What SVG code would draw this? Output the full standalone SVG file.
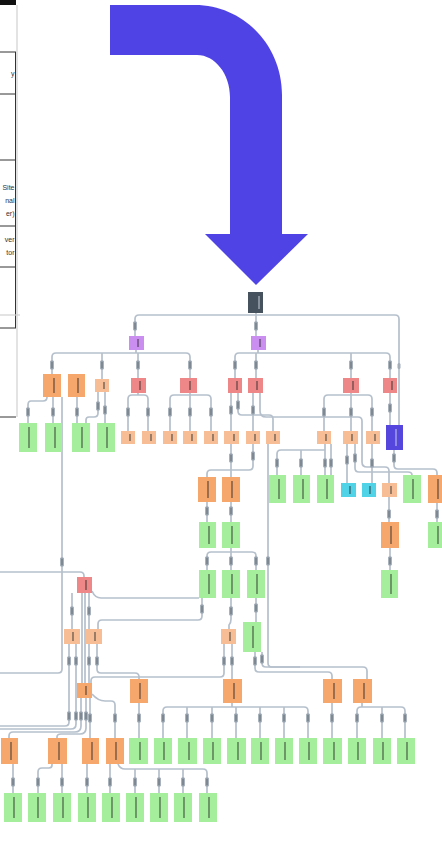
<svg xmlns="http://www.w3.org/2000/svg" width="442" height="865" viewBox="0 0 442 865">
<style>
.bg{fill:#ffffff}
.tb{stroke:#333;stroke-width:1;fill:none}
.tbl{stroke:#d0d0d0;stroke-width:1.2;fill:none}
.tt{font-family:"Liberation Sans",Arial,sans-serif;font-size:7px;fill:#333;text-anchor:end}
.c path{fill:none;stroke:#b5c0cc;stroke-width:1.7}
.green{fill:#a4ee9c}
.orange{fill:#f5a76c}
.peach{fill:#f7be96}
.red{fill:#ee8787}
.purple{fill:#c98ef0}
.dark{fill:#46535f}
.blue{fill:#5546de}
.cyan{fill:#50d3e6}
.ink{stroke:#2a2a2a;stroke-width:1.2;opacity:0.75}
.inkl{stroke:#dfe3f0;stroke-width:1;opacity:0.85}
</style>
<defs>
<g id="chip"><rect x="-1.8" y="-4.5" width="3.6" height="9" rx="1" fill="#939fab"/><line x1="0" y1="-3" x2="0" y2="3" stroke="#5d6772" stroke-width="0.8"/></g>
<g id="chips"><rect x="-1.5" y="-3" width="3" height="6" rx="1.5" fill="#a3aeb9"/></g>
</defs>
<rect class="bg" x="0" y="0" width="442" height="865"/>

<g id="table">
<rect x="0" y="0" width="16" height="5" fill="#111"/>
<line class="tbl" x1="17" y1="5" x2="17" y2="417"/>
<line class="tb" x1="15.5" y1="52" x2="15.5" y2="328"/>
<line class="tb" x1="0" y1="52" x2="16" y2="52"/>
<line class="tb" x1="0" y1="94" x2="16" y2="94"/>
<line class="tb" x1="0" y1="160" x2="16" y2="160"/>
<line class="tb" x1="0" y1="226" x2="16" y2="226"/>
<line class="tb" x1="0" y1="267" x2="16" y2="267"/>
<line class="tb" x1="0" y1="328" x2="16" y2="328"/>
<line class="tbl" x1="0" y1="315" x2="20" y2="315"/>
<line class="tb" x1="0" y1="417" x2="16" y2="417"/>
<text class="tt" x="14.5" y="76">y</text>
<text class="tt" x="14.5" y="190">Site</text>
<text class="tt" x="14.5" y="203">nal</text>
<text class="tt" x="14.5" y="216">er)</text>
<text class="tt" x="14.5" y="242">ver</text>
<text class="tt" x="14.5" y="255">tor</text>
</g>

<path id="bigarrow" d="M110,5 H195 C243,5 282,45 282,95 V234 H308 L256,285 L205,234 H230 V97 C230,74 215,55 197,55 H110 Z" fill="#5043e6"/>

<g id="connectors" class="c">
<path d="M135,336 V319 Q135,315 139,315 H395 Q399,315 399,319 V425"/>
<path d="M256,313 V336"/>
<path d="M136,350 V353"/>
<path d="M52,374 V357 Q52,353 56,353 H186 Q190,353 190,357 V378"/>
<path d="M102,353 V379"/>
<path d="M138,353 V378"/>
<path d="M258,350 V353"/>
<path d="M235,378 V357 Q235,353 239,353 H386 Q390,353 390,357 V378"/>
<path d="M256,353 V378"/>
<path d="M351,353 V378"/>
<path d="M47,397 Q47,401 43,401 H31 Q28,401 28,405 V423"/>
<path d="M53,397 V423"/>
<path d="M62,397 V669 Q62,673 58,673 H0"/>
<path d="M77,397 V423"/>
<path d="M98,392 V413 Q98,417 94,417 H89 Q86,417 86,420 V423"/>
<path d="M105,392 V423"/>
<path d="M128,431 V399 Q128,395 132,395 H144 Q148,395 148,399 V431"/>
<path d="M138,393 V395"/>
<path d="M170,431 V399 Q170,395 174,395 H207 Q211,395 211,399 V431"/>
<path d="M190,393 V431"/>
<path d="M231,393 V431"/>
<path d="M238,393 V411 Q238,415 242,415 H269 Q273,415 273,419 V431"/>
<path d="M253,393 V431"/>
<path d="M260,393 V411 Q260,417 266,417 H358 Q362,417 362,421 V462 Q362,467 367,467 H385 Q389,467 389,471 V483"/>
<path d="M324,431 V399 Q324,395 328,395 H368 Q372,395 372,399 V431"/>
<path d="M351,393 V431"/>
<path d="M390,393 V425"/>
<path d="M231,444 V477"/>
<path d="M253,444 V466 Q253,470 249,470 H211 Q207,470 207,474 V477"/>
<path d="M207,502 V522"/>
<path d="M231,502 V522"/>
<path d="M207,570 V556 Q207,552 211,552 H252 Q256,552 256,556 V570"/>
<path d="M231,548 V570"/>
<path d="M268,444 V663 Q268,667 272,667 H363 Q367,667 367,671 V679"/>
<path d="M277,475 V454 Q277,450 281,450 H325"/>
<path d="M325,444 V475"/>
<path d="M301,450 V475"/>
<path d="M331,444 V475"/>
<path d="M347,444 V483"/>
<path d="M355,444 V468 Q355,472 359,472 H408 Q412,472 412,475"/>
<path d="M372,444 V483"/>
<path d="M394,450 V465 Q394,469 398,469 H433 Q437,469 437,473 V475"/>
<path d="M389,497 V522"/>
<path d="M390,548 V570"/>
<path d="M437,503 V522"/>
<path d="M0,572 H80 Q84,572 84,576 V577"/>
<path d="M72,593 V629"/>
<path d="M89,593 V629"/>
<path d="M82,593 V683"/>
<path d="M85,593 V683"/>
<path d="M92,591 Q95,598 101,598 H199"/>
<path d="M231,598 V619 Q231,623 229,625 V629"/>
<path d="M98,629 V624 Q98,620 102,620 H198 Q202,620 202,616 V598"/>
<path d="M256,598 V622"/>
<path d="M69,644 V722 Q69,726 65,726 H0"/>
<path d="M76,644 V724 Q76,729 71,729 H0"/>
<path d="M89,644 V683"/>
<path d="M97,644 V669 Q97,673 101,673 H135 Q139,673 139,677 V679"/>
<path d="M224,644 V673 Q224,677 220,677 H95 Q91,677 91,681 V683"/>
<path d="M232,644 V679"/>
<path d="M255,652 V668 Q255,672 259,672 H328 Q332,672 332,676 V679"/>
<path d="M262,652 V663 Q262,667 266,667 H300"/>
<path d="M81,698 V726 Q81,732 75,732 H13 Q9,732 9,736 V738"/>
<path d="M86,698 V728 Q86,734 80,734 H61 Q57,734 57,737 V738"/>
<path d="M90,698 V738"/>
<path d="M92,694 Q98,701 105,701 H111 Q115,701 115,705 V738"/>
<path d="M139,703 V738"/>
<path d="M163,738 V711 Q163,707 167,707 H304 Q308,707 308,711 V738"/>
<path d="M187,707 V738"/>
<path d="M212,707 V738"/>
<path d="M236,707 V738"/>
<path d="M260,707 V738"/>
<path d="M284,707 V738"/>
<path d="M232,703 V707"/>
<path d="M332,703 V738"/>
<path d="M357,738 V711 Q357,707 361,707 H401 Q405,707 405,711 V738"/>
<path d="M382,707 V738"/>
<path d="M362,703 V707"/>
<path d="M13,764 V793"/>
<path d="M52,764 V765 Q52,768 49,768 H42 Q38,768 38,772 V793"/>
<path d="M62,764 V793"/>
<path d="M87,764 V793"/>
<path d="M110,764 V793"/>
<path d="M118,764 Q120,769 125,769 H203 Q207,769 207,773 V793"/>
<path d="M135,769 V793"/>
<path d="M159,769 V793"/>
<path d="M183,769 V793"/>
</g>

<g id="edge-labels">
<use href="#chip" x="135" y="326"/><use href="#chip" x="256" y="326"/><use href="#chips" x="399" y="366"/>
<use href="#chip" x="52" y="365"/><use href="#chip" x="102" y="365"/><use href="#chip" x="138" y="365"/><use href="#chip" x="190" y="365"/>
<use href="#chip" x="235" y="365"/><use href="#chip" x="256" y="365"/><use href="#chip" x="351" y="365"/><use href="#chip" x="390" y="365"/>
<use href="#chip" x="28" y="412"/><use href="#chip" x="53" y="412"/><use href="#chip" x="77" y="412"/><use href="#chip" x="98" y="406"/><use href="#chip" x="105" y="410"/>
<use href="#chip" x="128" y="412"/><use href="#chip" x="148" y="412"/><use href="#chip" x="170" y="412"/><use href="#chip" x="190" y="412"/><use href="#chip" x="211" y="412"/>
<use href="#chip" x="231" y="410"/><use href="#chip" x="238" y="405"/><use href="#chip" x="253" y="410"/><use href="#chip" x="324" y="412"/><use href="#chip" x="351" y="412"/><use href="#chip" x="372" y="412"/><use href="#chip" x="390" y="408"/>
<use href="#chip" x="231" y="458"/><use href="#chip" x="253" y="456"/><use href="#chip" x="394" y="458"/>
<use href="#chip" x="277" y="463"/><use href="#chip" x="301" y="463"/><use href="#chip" x="325" y="463"/><use href="#chip" x="331" y="463"/><use href="#chip" x="347" y="460"/><use href="#chip" x="355" y="458"/><use href="#chip" x="372" y="463"/>
<use href="#chip" x="207" y="511"/><use href="#chip" x="231" y="511"/><use href="#chip" x="389" y="514"/><use href="#chip" x="437" y="514"/>
<use href="#chip" x="207" y="561"/><use href="#chip" x="231" y="561"/><use href="#chip" x="256" y="561"/><use href="#chip" x="268" y="561"/><use href="#chip" x="390" y="561"/><use href="#chip" x="62" y="562"/>
<use href="#chip" x="202" y="609"/><use href="#chip" x="231" y="611"/><use href="#chip" x="256" y="608"/><use href="#chip" x="72" y="611"/><use href="#chip" x="89" y="611"/>
<use href="#chip" x="69" y="661"/><use href="#chip" x="76" y="661"/><use href="#chip" x="89" y="661"/><use href="#chip" x="97" y="661"/><use href="#chip" x="224" y="661"/><use href="#chip" x="232" y="661"/><use href="#chip" x="255" y="661"/><use href="#chip" x="262" y="659"/>
<use href="#chip" x="69" y="716"/><use href="#chip" x="76" y="716"/><use href="#chip" x="81" y="716"/><use href="#chip" x="86" y="716"/><use href="#chip" x="90" y="718"/><use href="#chip" x="115" y="718"/>
<use href="#chip" x="139" y="718"/><use href="#chip" x="163" y="718"/><use href="#chip" x="187" y="718"/><use href="#chip" x="212" y="718"/><use href="#chip" x="236" y="718"/><use href="#chip" x="260" y="718"/><use href="#chip" x="284" y="718"/><use href="#chip" x="308" y="718"/>
<use href="#chip" x="332" y="718"/><use href="#chip" x="357" y="718"/><use href="#chip" x="382" y="718"/><use href="#chip" x="405" y="718"/>
<use href="#chip" x="13" y="782"/><use href="#chip" x="38" y="782"/><use href="#chip" x="62" y="782"/><use href="#chip" x="87" y="782"/><use href="#chip" x="110" y="782"/><use href="#chip" x="135" y="782"/><use href="#chip" x="159" y="782"/><use href="#chip" x="183" y="782"/><use href="#chip" x="207" y="782"/>
</g>

<g id="nodes">
<g id="n-root"><rect class="dark" x="248" y="292" width="15" height="21"/><line class="inkl" x1="259" y1="296" x2="259" y2="309"/></g>
<g id="n-p1"><rect class="purple" x="129" y="336" width="15" height="14"/><line class="ink" x1="138" y1="339" x2="138" y2="347"/></g>
<g id="n-p2"><rect class="purple" x="251" y="336" width="15" height="14"/><line class="ink" x1="260" y1="339" x2="260" y2="347"/></g>
<g id="n-a"><rect class="orange" x="43" y="374" width="18" height="23"/><line class="ink" x1="54" y1="378" x2="54" y2="393"/></g>
<g id="n-b"><rect class="orange" x="68" y="374" width="17" height="23"/><line class="ink" x1="78" y1="378" x2="78" y2="393"/></g>
<g id="n-c"><rect class="peach" x="95" y="379" width="14" height="13"/><line class="ink" x1="104" y1="382" x2="104" y2="389"/></g>
<g id="n-d"><rect class="red" x="131" y="378" width="15" height="15"/><line class="ink" x1="140" y1="381" x2="140" y2="390"/></g>
<g id="n-e"><rect class="red" x="180" y="378" width="17" height="15"/><line class="ink" x1="190" y1="381" x2="190" y2="390"/></g>
<g id="n-f"><rect class="red" x="228" y="378" width="14" height="15"/><line class="ink" x1="237" y1="381" x2="237" y2="390"/></g>
<g id="n-g"><rect class="red" x="248" y="378" width="15" height="15"/><line class="ink" x1="257" y1="381" x2="257" y2="390"/></g>
<g id="n-h"><rect class="red" x="343" y="378" width="16" height="15"/><line class="ink" x1="353" y1="381" x2="353" y2="390"/></g>
<g id="n-i"><rect class="red" x="383" y="378" width="14" height="15"/><line class="ink" x1="392" y1="381" x2="392" y2="390"/></g>
<g id="n-g1"><rect class="green" x="19" y="423" width="18" height="29"/><line class="ink" x1="29" y1="427" x2="29" y2="448"/></g>
<g id="n-g2"><rect class="green" x="45" y="423" width="17" height="29"/><line class="ink" x1="55" y1="427" x2="55" y2="448"/></g>
<g id="n-g3"><rect class="green" x="72" y="423" width="18" height="29"/><line class="ink" x1="82" y1="427" x2="82" y2="448"/></g>
<g id="n-g4"><rect class="green" x="97" y="423" width="18" height="29"/><line class="ink" x1="107" y1="427" x2="107" y2="448"/></g>
<g id="n-p1a"><rect class="peach" x="121" y="431" width="14" height="13"/><line class="ink" x1="130" y1="434" x2="130" y2="441"/></g>
<g id="n-p2a"><rect class="peach" x="142" y="431" width="14" height="13"/><line class="ink" x1="151" y1="434" x2="151" y2="441"/></g>
<g id="n-p3a"><rect class="peach" x="163" y="431" width="14" height="13"/><line class="ink" x1="172" y1="434" x2="172" y2="441"/></g>
<g id="n-p4a"><rect class="peach" x="183" y="431" width="14" height="13"/><line class="ink" x1="192" y1="434" x2="192" y2="441"/></g>
<g id="n-p5a"><rect class="peach" x="204" y="431" width="14" height="13"/><line class="ink" x1="213" y1="434" x2="213" y2="441"/></g>
<g id="n-p6a"><rect class="peach" x="224" y="431" width="15" height="13"/><line class="ink" x1="234" y1="434" x2="234" y2="441"/></g>
<g id="n-p7a"><rect class="peach" x="246" y="431" width="14" height="13"/><line class="ink" x1="255" y1="434" x2="255" y2="441"/></g>
<g id="n-p8a"><rect class="peach" x="266" y="431" width="14" height="13"/><line class="ink" x1="275" y1="434" x2="275" y2="441"/></g>
<g id="n-j"><rect class="peach" x="317" y="431" width="14" height="13"/><line class="ink" x1="326" y1="434" x2="326" y2="441"/></g>
<g id="n-k"><rect class="peach" x="343" y="431" width="15" height="13"/><line class="ink" x1="352" y1="434" x2="352" y2="441"/></g>
<g id="n-l"><rect class="peach" x="366" y="431" width="14" height="13"/><line class="ink" x1="375" y1="434" x2="375" y2="441"/></g>
<g id="n-m"><rect class="blue" x="386" y="425" width="17" height="25"/><line class="inkl" x1="396" y1="429" x2="396" y2="446"/></g>
<g id="n-n"><rect class="orange" x="198" y="477" width="18" height="25"/><line class="ink" x1="208" y1="481" x2="208" y2="498"/></g>
<g id="n-o"><rect class="orange" x="222" y="477" width="18" height="25"/><line class="ink" x1="232" y1="481" x2="232" y2="498"/></g>
<g id="n-pp"><rect class="green" x="199" y="522" width="17" height="26"/><line class="ink" x1="209" y1="526" x2="209" y2="544"/></g>
<g id="n-q"><rect class="green" x="222" y="522" width="18" height="26"/><line class="ink" x1="232" y1="526" x2="232" y2="544"/></g>
<g id="n-r"><rect class="green" x="199" y="570" width="17" height="28"/><line class="ink" x1="209" y1="574" x2="209" y2="594"/></g>
<g id="n-s"><rect class="green" x="222" y="570" width="18" height="28"/><line class="ink" x1="232" y1="574" x2="232" y2="594"/></g>
<g id="n-t"><rect class="green" x="247" y="570" width="18" height="28"/><line class="ink" x1="257" y1="574" x2="257" y2="594"/></g>
<g id="n-u"><rect class="green" x="269" y="475" width="17" height="28"/><line class="ink" x1="279" y1="479" x2="279" y2="499"/></g>
<g id="n-v"><rect class="green" x="293" y="475" width="17" height="28"/><line class="ink" x1="303" y1="479" x2="303" y2="499"/></g>
<g id="n-w"><rect class="green" x="317" y="475" width="17" height="28"/><line class="ink" x1="327" y1="479" x2="327" y2="499"/></g>
<g id="n-x"><rect class="cyan" x="341" y="483" width="15" height="14"/><line class="ink" x1="350" y1="486" x2="350" y2="494"/></g>
<g id="n-y"><rect class="cyan" x="362" y="483" width="14" height="14"/><line class="ink" x1="370" y1="486" x2="370" y2="494"/></g>
<g id="n-z"><rect class="peach" x="382" y="483" width="15" height="14"/><line class="ink" x1="391" y1="486" x2="391" y2="494"/></g>
<g id="n-aa"><rect class="green" x="403" y="475" width="18" height="28"/><line class="ink" x1="413" y1="479" x2="413" y2="499"/></g>
<g id="n-ab"><rect class="orange" x="428" y="475" width="18" height="28"/><line class="ink" x1="438" y1="479" x2="438" y2="499"/></g>
<g id="n-ac"><rect class="orange" x="381" y="522" width="18" height="26"/><line class="ink" x1="391" y1="526" x2="391" y2="544"/></g>
<g id="n-ad"><rect class="green" x="381" y="570" width="17" height="28"/><line class="ink" x1="391" y1="574" x2="391" y2="594"/></g>
<g id="n-ae"><rect class="green" x="428" y="522" width="18" height="26"/><line class="ink" x1="438" y1="526" x2="438" y2="544"/></g>
<g id="n-ba"><rect class="red" x="77" y="577" width="15" height="16"/><line class="ink" x1="86" y1="580" x2="86" y2="590"/></g>
<g id="n-bb"><rect class="peach" x="64" y="629" width="16" height="15"/><line class="ink" x1="73" y1="632" x2="73" y2="641"/></g>
<g id="n-bc"><rect class="peach" x="86" y="629" width="16" height="15"/><line class="ink" x1="95" y1="632" x2="95" y2="641"/></g>
<g id="n-bd"><rect class="peach" x="221" y="629" width="15" height="15"/><line class="ink" x1="230" y1="632" x2="230" y2="641"/></g>
<g id="n-be"><rect class="green" x="243" y="622" width="18" height="30"/><line class="ink" x1="253" y1="626" x2="253" y2="648"/></g>
<g id="n-bf"><rect class="orange" x="130" y="679" width="18" height="24"/><line class="ink" x1="140" y1="683" x2="140" y2="699"/></g>
<g id="n-bg"><rect class="orange" x="77" y="683" width="15" height="15"/><line class="ink" x1="86" y1="686" x2="86" y2="695"/></g>
<g id="n-bh"><rect class="orange" x="223" y="679" width="19" height="24"/><line class="ink" x1="234" y1="683" x2="234" y2="699"/></g>
<g id="n-bi"><rect class="orange" x="323" y="679" width="19" height="24"/><line class="ink" x1="334" y1="683" x2="334" y2="699"/></g>
<g id="n-bj"><rect class="orange" x="353" y="679" width="19" height="24"/><line class="ink" x1="364" y1="683" x2="364" y2="699"/></g>
<g id="n-bl"><rect class="orange" x="1" y="738" width="17" height="26"/><line class="ink" x1="11" y1="742" x2="11" y2="760"/></g>
<g id="n-bm"><rect class="orange" x="48" y="738" width="19" height="26"/><line class="ink" x1="59" y1="742" x2="59" y2="760"/></g>
<g id="n-bn"><rect class="orange" x="82" y="738" width="17" height="26"/><line class="ink" x1="92" y1="742" x2="92" y2="760"/></g>
<g id="n-bo"><rect class="orange" x="106" y="738" width="18" height="26"/><line class="ink" x1="116" y1="742" x2="116" y2="760"/></g>
<g id="n-bk"><rect class="green" x="129" y="738" width="19" height="26"/><line class="ink" x1="140" y1="742" x2="140" y2="760"/></g>
<g id="n-r9a"><rect class="green" x="154" y="738" width="18" height="26"/><line class="ink" x1="164" y1="742" x2="164" y2="760"/></g>
<g id="n-r9b"><rect class="green" x="178" y="738" width="19" height="26"/><line class="ink" x1="189" y1="742" x2="189" y2="760"/></g>
<g id="n-r9c"><rect class="green" x="203" y="738" width="18" height="26"/><line class="ink" x1="213" y1="742" x2="213" y2="760"/></g>
<g id="n-r9d"><rect class="green" x="227" y="738" width="19" height="26"/><line class="ink" x1="238" y1="742" x2="238" y2="760"/></g>
<g id="n-r9e"><rect class="green" x="251" y="738" width="18" height="26"/><line class="ink" x1="261" y1="742" x2="261" y2="760"/></g>
<g id="n-r9f"><rect class="green" x="275" y="738" width="18" height="26"/><line class="ink" x1="285" y1="742" x2="285" y2="760"/></g>
<g id="n-r9g"><rect class="green" x="299" y="738" width="18" height="26"/><line class="ink" x1="309" y1="742" x2="309" y2="760"/></g>
<g id="n-r9h"><rect class="green" x="323" y="738" width="19" height="26"/><line class="ink" x1="334" y1="742" x2="334" y2="760"/></g>
<g id="n-r9i"><rect class="green" x="348" y="738" width="18" height="26"/><line class="ink" x1="358" y1="742" x2="358" y2="760"/></g>
<g id="n-r9j"><rect class="green" x="373" y="738" width="18" height="26"/><line class="ink" x1="383" y1="742" x2="383" y2="760"/></g>
<g id="n-r9k"><rect class="green" x="397" y="738" width="18" height="26"/><line class="ink" x1="407" y1="742" x2="407" y2="760"/></g>
<g id="n-r10a"><rect class="green" x="4" y="793" width="18" height="29"/><line class="ink" x1="14" y1="797" x2="14" y2="818"/></g>
<g id="n-r10b"><rect class="green" x="28" y="793" width="18" height="29"/><line class="ink" x1="38" y1="797" x2="38" y2="818"/></g>
<g id="n-r10c"><rect class="green" x="53" y="793" width="18" height="29"/><line class="ink" x1="63" y1="797" x2="63" y2="818"/></g>
<g id="n-r10d"><rect class="green" x="78" y="793" width="18" height="29"/><line class="ink" x1="88" y1="797" x2="88" y2="818"/></g>
<g id="n-r10e"><rect class="green" x="102" y="793" width="18" height="29"/><line class="ink" x1="112" y1="797" x2="112" y2="818"/></g>
<g id="n-r10f"><rect class="green" x="126" y="793" width="18" height="29"/><line class="ink" x1="136" y1="797" x2="136" y2="818"/></g>
<g id="n-r10g"><rect class="green" x="150" y="793" width="18" height="29"/><line class="ink" x1="160" y1="797" x2="160" y2="818"/></g>
<g id="n-r10h"><rect class="green" x="174" y="793" width="18" height="29"/><line class="ink" x1="184" y1="797" x2="184" y2="818"/></g>
<g id="n-r10i"><rect class="green" x="199" y="793" width="18" height="29"/><line class="ink" x1="209" y1="797" x2="209" y2="818"/></g>
</g>
</svg>
